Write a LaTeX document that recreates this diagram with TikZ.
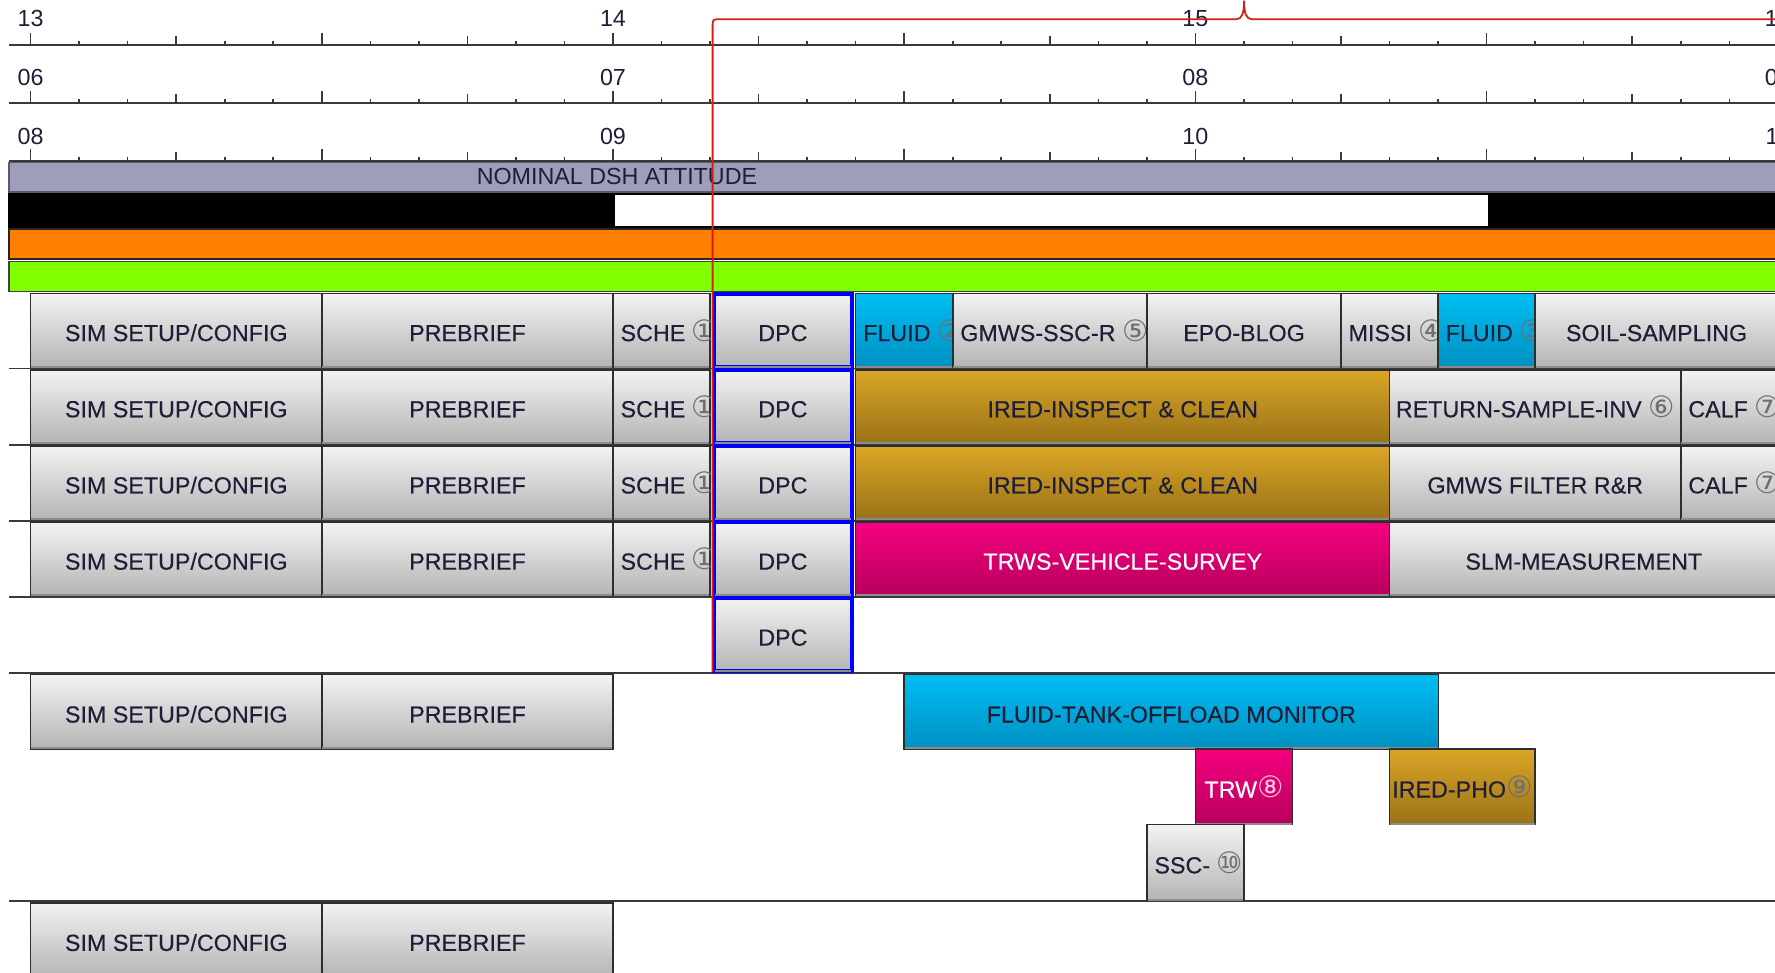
\documentclass[tikz,border=0pt]{standalone}
\usepackage{fontspec}
\setmainfont{Liberation Sans}
\newfontfamily\symfont{DejaVu Sans}
\newfontfamily\boxfont{Liberation Sans}[FakeBold=0.35]
\usetikzlibrary{calc}

\definecolor{ink}{HTML}{1E1E38}
\definecolor{lav}{HTML}{9E9EBA}
\definecolor{lavedge}{HTML}{5A5A6E}
\definecolor{orng}{HTML}{FF8000}
\definecolor{lime}{HTML}{80FF00}
\definecolor{grayT}{HTML}{F3F3F3}
\definecolor{grayB}{HTML}{B4B4B4}
\definecolor{cyanT}{HTML}{00BEF2}
\definecolor{cyanB}{HTML}{0090C2}
\definecolor{goldT}{HTML}{DAA626}
\definecolor{goldB}{HTML}{9A7218}
\definecolor{magT}{HTML}{F6007F}
\definecolor{magB}{HTML}{B6005C}
\definecolor{edge}{HTML}{2E2E2E}
\definecolor{circ}{HTML}{6E6E6E}
\definecolor{cursor}{HTML}{D42010}
\definecolor{axcol}{HTML}{3A3A3A}

\newcommand\cnum[1]{{\symfont\fontsize{7.4}{8}\selectfont\color{circ}#1}}
\newcommand\cnumc[2]{{\symfont\fontsize{7.4}{8}\selectfont\color{#1}#2}}

\tikzset{
  task/.style={draw=edge, line width=0.4pt, inner sep=0pt, outer sep=0pt, anchor=north west},
  grayfill/.style={top color=grayT, bottom color=grayB},
  cyanfill/.style={top color=cyanT, bottom color=cyanB},
  goldfill/.style={top color=goldT, bottom color=goldB},
  magfill/.style={top color=magT, bottom color=magB},
  dpcbox/.style={grayfill, draw=blue, line width=1pt},
  lbl/.style={font=\fontsize{5.85}{6}\selectfont, text=ink, inner sep=0pt},
  boxlbl/.style={font=\boxfont\fontsize{5.85}{6}\selectfont, text=ink, inner sep=0pt},
  axisline/.style={draw=axcol, line width=0.55pt},
  tickmark/.style={draw=axcol, line width=0.4pt},
  rowline/.style={draw=axcol, line width=0.45pt},
  groupline/.style={draw=axcol, line width=0.6pt},
  band/.style={line width=0.4pt},
  cursorline/.style={draw=cursor, line width=0.45pt},
}

% name, t1, t2, ytop, height, style, text, mode (l = left, c = centre)
\newcommand\tk[8]{%
  \node[task,#6,minimum width={(#3-#2)*0.42875cm}, minimum height={#5*0.01cm}] (#1) at ({27+42.875*(#2)},#4) {};
  \draw[black!45, line width=0.5pt] ($(#1.south west)+(0.6,-0.4)$) -- ($(#1.south east)+(-0.6,-0.4)$);
  \begin{scope}
    \clip (#1.south west) rectangle (#1.north east);
    \ifx l#8
      \node[boxlbl,anchor=base west] (#1-t) at ($(#1.west)+(6,9.5)$) {#7};
    \else
      \node[boxlbl,anchor=base] (#1-t) at ($(#1.center)+(0,9.5)$) {#7};
    \fi
  \end{scope}}

\begin{document}
\begin{tikzpicture}[x=0.01cm,y=-0.01cm]
\useasboundingbox (0,0) rectangle (1568,859);
\clip (0,0) rectangle (1568,859);
\fill[white] (0,0) rectangle (1568,859);

% ---- time axes ----
\foreach \yy in {39.8, 91.3, 142.3} {
  \draw[axisline] (8,\yy) -- (1580,\yy);
  \foreach \k in {0,...,37} {
    \pgfmathsetmacro\len{mod(\k,6)==0 ? 11 : (mod(\k,3)==0 ? 8 : 4)}
    \draw[tickmark] ({27+42.875*\k},\yy) -- ++(0,-\len);
  }
}
\foreach \lab [count=\i from 0] in {13,14,15,16}
  \node[lbl,anchor=base] (axa-\i) at ({27+514.5*\i},23.6) {\lab};
\foreach \lab [count=\i from 0] in {06,07,08,09}
  \node[lbl,anchor=base] (axb-\i) at ({27+514.5*\i},75.8) {\lab};
\foreach \lab [count=\i from 0] in {08,09,10,11}
  \node[lbl,anchor=base] (axc-\i) at ({27+514.5*\i},127.8) {\lab};

% ---- bands ----
\path[band, fill=lav, draw=lavedge] (8,143.5) rectangle (1580,169.5);
\node[lbl] (att) at (545,156) {NOMINAL DSH ATTITUDE};
\path[band, fill=black, draw=black] (8,170.8) rectangle (1580,201);
\path[fill=white] (543.5,172) rectangle (1314.5,199.8);
\path[band, fill=orng, draw=black!85] (8,202.5) rectangle (1580,229);
\path[band, fill=lime, draw=black!75] (8,231) rectangle (1580,257.5);

% ---- row lines ----
\foreach \yy in {325.5, 392.8, 460.1, 527.4}
  \draw[rowline] (8,\yy) -- (1580,\yy);
\draw[groupline] (8,594.6) -- (1580,594.6);
\draw[groupline] (8,796) -- (1580,796);

% ---- row 1 ----
\tk{a1}{0}{6}{259.3}{65}{grayfill}{SIM SETUP/CONFIG}{c}
\tk{a2}{6}{12}{259.3}{65}{grayfill}{PREBRIEF}{c}
\tk{a3}{12}{14}{259.3}{65}{grayfill}{SCHE \cnum{①}}{l}
\tk{a4}{14.08}{16.92}{259.3}{65}{dpcbox}{DPC}{c}
\tk{a5}{17}{19}{259.3}{65}{cyanfill}{FLUID \cnum{②}}{l}
\tk{a6}{19}{23}{259.3}{65}{grayfill}{GMWS-SSC-R \cnum{⑤}}{l}
\tk{a7}{23}{27}{259.3}{65}{grayfill}{EPO-BLOG}{c}
\tk{a8}{27}{29}{259.3}{65}{grayfill}{MISSI \cnum{④}}{l}
\tk{a9}{29}{31}{259.3}{65}{cyanfill}{FLUID \cnum{③}}{l}
\tk{a10}{31}{36}{259.3}{65}{grayfill}{SOIL-SAMPLING}{c}

% ---- row 2 ----
\tk{b1}{0}{6}{326.6}{65}{grayfill}{SIM SETUP/CONFIG}{c}
\tk{b2}{6}{12}{326.6}{65}{grayfill}{PREBRIEF}{c}
\tk{b3}{12}{14}{326.6}{65}{grayfill}{SCHE \cnum{①}}{l}
\tk{b4}{14.08}{16.92}{326.6}{65}{dpcbox}{DPC}{c}
\tk{b5}{17}{28}{326.6}{65}{goldfill}{IRED-INSPECT \& CLEAN}{c}
\tk{b6}{28}{34}{326.6}{65}{grayfill}{RETURN-SAMPLE-INV \cnum{⑥}}{c}
\tk{b7}{34}{38}{326.6}{65}{grayfill}{CALF \cnum{⑦}}{l}

% ---- row 3 ----
\tk{c1}{0}{6}{393.9}{65}{grayfill}{SIM SETUP/CONFIG}{c}
\tk{c2}{6}{12}{393.9}{65}{grayfill}{PREBRIEF}{c}
\tk{c3}{12}{14}{393.9}{65}{grayfill}{SCHE \cnum{①}}{l}
\tk{c4}{14.08}{16.92}{393.9}{65}{dpcbox}{DPC}{c}
\tk{c5}{17}{28}{393.9}{65}{goldfill}{IRED-INSPECT \& CLEAN}{c}
\tk{c6}{28}{34}{393.9}{65}{grayfill}{GMWS FILTER R\&R}{c}
\tk{c7}{34}{38}{393.9}{65}{grayfill}{CALF \cnum{⑦}}{l}

% ---- row 4 ----
\tk{d1}{0}{6}{461.2}{65}{grayfill}{SIM SETUP/CONFIG}{c}
\tk{d2}{6}{12}{461.2}{65}{grayfill}{PREBRIEF}{c}
\tk{d3}{12}{14}{461.2}{65}{grayfill}{SCHE \cnum{①}}{l}
\tk{d4}{14.08}{16.92}{461.2}{65}{dpcbox}{DPC}{c}
\tk{d5}{17}{28}{461.2}{65}{magfill}{\color{white}TRWS-VEHICLE-SURVEY}{c}
\tk{d6}{28}{36}{461.2}{65}{grayfill}{SLM-MEASUREMENT}{c}

% ---- row 5 ----
\tk{e4}{14.08}{16.92}{528.6}{64.5}{dpcbox}{DPC}{c}

% ---- group 2 ----
\tk{f1}{0}{6}{596}{65.5}{grayfill}{SIM SETUP/CONFIG}{c}
\tk{f2}{6}{12}{596}{65.5}{grayfill}{PREBRIEF}{c}
\tk{f3}{18}{29}{596}{65.5}{cyanfill}{FLUID-TANK-OFFLOAD MONITOR}{c}
\tk{g1}{24}{26}{661.5}{67}{magfill}{\color{white}TRW\cnumc{white!75!magT}{⑧}}{c}
\tk{g2}{28}{31}{661.5}{67}{goldfill}{IRED-PHO\cnumc{ink!65}{⑨}}{c}
\tk{h1}{23}{25}{728.5}{67}{grayfill}{SSC- \cnum{⑩}}{l}

% ---- last group ----
\tk{k1}{0}{6}{797.5}{66}{grayfill}{SIM SETUP/CONFIG}{c}
\tk{k2}{6}{12}{797.5}{66}{grayfill}{PREBRIEF}{c}

% ---- cursor / brace ----
\coordinate (curB) at (629.5,593.5);
\coordinate (curL) at (629.5,24);
\coordinate (tip) at (1099,0.5);
\coordinate (curR) at (1580,17);
\draw[cursorline] (curB) -- (curL) .. controls (629.5,17) .. (636,17)
  -- (1092,17) .. controls (1097,17) and (1099,12) .. (tip)
  .. controls (1099,12) and (1101,17) .. (1106,17) -- (curR);
\end{tikzpicture}
\end{document}
